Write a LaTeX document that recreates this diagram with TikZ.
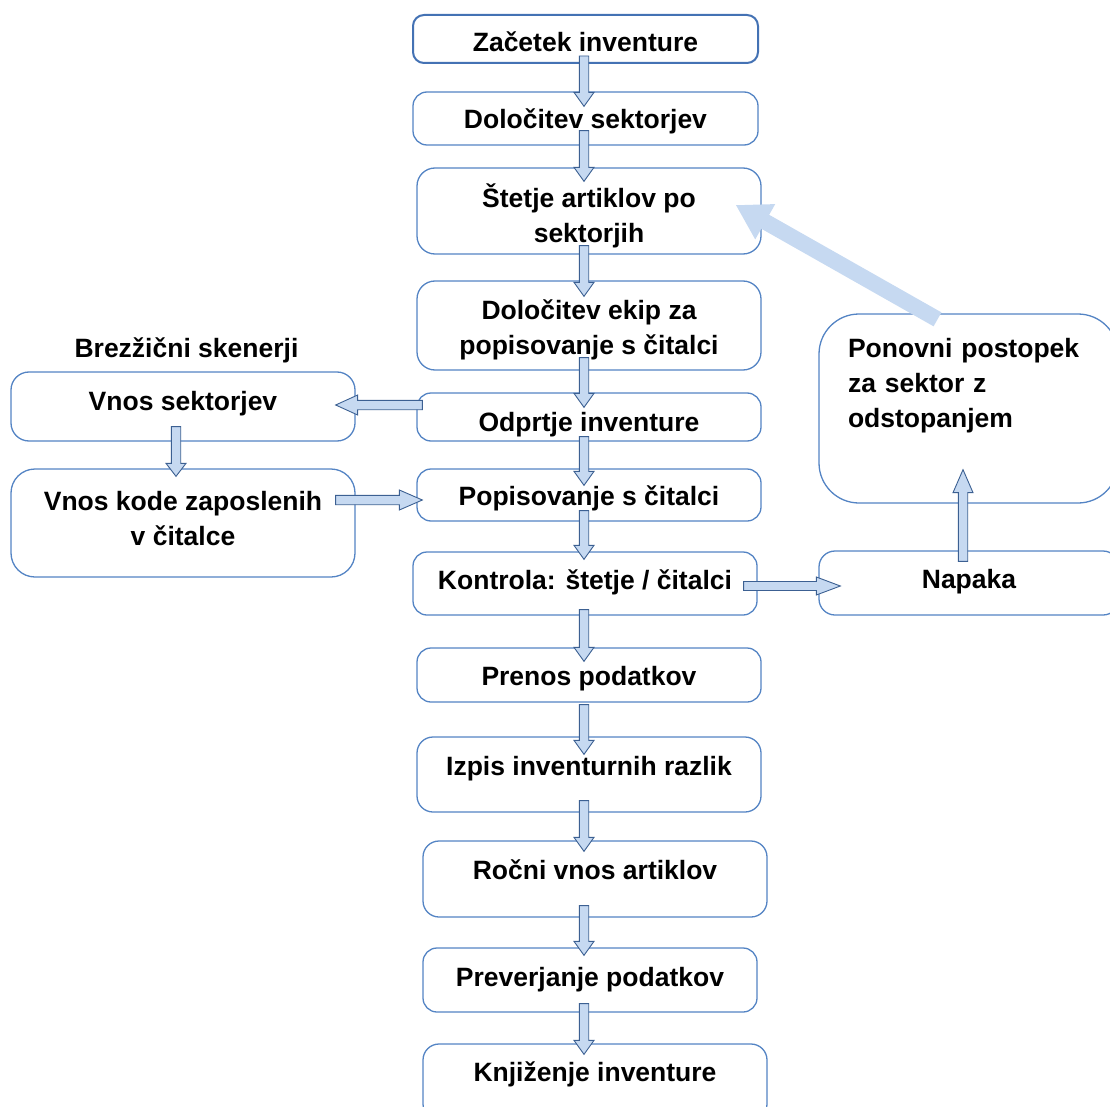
\documentclass[tikz,border=0pt]{standalone}
\usepackage{fontspec}
\setmainfont{Liberation Sans}
\usetikzlibrary{calc,arrows.meta}

\definecolor{boxblue}{RGB}{84,132,196}
\definecolor{boxdark}{RGB}{68,114,180}
\definecolor{arrowfill}{RGB}{198,217,241}
\definecolor{arrowline}{RGB}{60,96,146}

\tikzset{
    stepbox/.style={draw=boxblue, line width=1.3pt, fill=white,
        rounded corners=14pt, inner sep=0pt, align=center,
        font=\fontsize{26.5}{35}\selectfont\bfseries,
        text height=30pt, text depth=#1},
    stepbox/.default=10pt,
    two lines/.style={text height=65pt},
    blockarrow/.style={fill=arrowfill, draw=arrowline, line width=0.9pt},
    arrow shaft/.store in=\arrowshaft,
    arrow head/.store in=\arrowhead,
    arrow tip/.store in=\arrowtip,
    arrow shaft=4.7pt, arrow head=10pt, arrow tip=14pt
}

% block arrow from #2 to #3
\newcommand{\blockarrow}[3][]{%
    \begin{scope}[#1]
        \path #2 coordinate (ba-s) #3 coordinate (ba-e);
        \path ($(ba-e)!\arrowtip!(ba-s)$) coordinate (ba-h);
        \filldraw[blockarrow]
            ($(ba-s)!\arrowshaft!90:(ba-e)$) -- ($(ba-h)!\arrowshaft!90:(ba-e)$)
            -- ($(ba-h)!\arrowhead!90:(ba-e)$) -- (ba-e)
            -- ($(ba-h)!\arrowhead!-90:(ba-e)$) -- ($(ba-h)!\arrowshaft!-90:(ba-e)$)
            -- ($(ba-s)!\arrowshaft!-90:(ba-e)$) -- cycle;
    \end{scope}}

\begin{document}
\begin{tikzpicture}[x=1pt, y=1pt]
    \useasboundingbox (0,0) rectangle (1110,-1107);
    \clip (0,0) rectangle (1110,-1107);

    % main column
    \node[stepbox=5pt, draw=boxdark, line width=2pt, rounded corners=11pt,
        minimum width=345pt, minimum height=48pt] (start) at (585.5,-39) {Začetek inventure};
    \node[stepbox, minimum width=345pt, minimum height=53pt] (sect) at (585.5,-118.5) {Določitev sektorjev};
    \node[stepbox=2pt, two lines, rounded corners=18pt, minimum width=344pt, minimum height=86pt] (stetje) at (589,-211) {Štetje artiklov po\\sektorjih};
    \node[stepbox=8pt, two lines, rounded corners=18pt, minimum width=344pt, minimum height=89pt] (ekipe) at (589,-325.5) {Določitev ekip za\\popisovanje s čitalci};
    \node[stepbox=1pt, minimum width=344pt, minimum height=48pt] (odprtje) at (589,-417) {Odprtje inventure};
    \node[stepbox=9pt, minimum width=344pt, minimum height=52pt] (popis) at (589,-495) {Popisovanje s čitalci};
    \node[stepbox=19pt, minimum width=344pt, minimum height=63pt] (kontrola) at (585,-583.5) {Kontrola: štetje / čitalci};
    \node[stepbox=10pt, minimum width=344pt, minimum height=54pt] (prenos) at (589,-675) {Prenos podatkov};
    \node[stepbox=29pt, rounded corners=16pt, minimum width=344pt, minimum height=75pt] (izpis) at (589,-774.5) {Izpis inventurnih razlik};
    \node[stepbox=30pt, rounded corners=16pt, minimum width=344pt, minimum height=76pt] (rocni) at (595,-879) {Ročni vnos artiklov};
    \node[stepbox=17pt, minimum width=334pt, minimum height=64pt] (prever) at (590,-980) {Preverjanje podatkov};
    \node[stepbox=31pt, rounded corners=16pt, minimum width=344pt, minimum height=76pt] (knjiz) at (595,-1082) {Knjiženje inventure};

    % wireless scanners
    \node[anchor=base, font=\fontsize{26.5}{35}\selectfont\bfseries] (skener) at (186.5,-357) {Brezžični skenerji};
    \node[stepbox=22pt, rounded corners=18pt, minimum width=344pt, minimum height=69pt] (vnossek) at (183,-406.5) {Vnos sektorjev};
    \node[stepbox=21pt, two lines, rounded corners=24pt, minimum width=344pt, minimum height=108pt] (vnoskode) at (183,-523) {Vnos kode zaposlenih\\v čitalce};

    % error branch
    \node[stepbox=20pt, rounded corners=16pt, minimum width=300pt, minimum height=64pt] (napaka) at (969,-583) {Napaka};
    \node[stepbox=132pt, rounded corners=40pt, align=left, text width=241pt, inner xsep=29pt,
        minimum width=299pt, minimum height=189pt] (ponovni) at (968.5,-408.5) {Ponovni postopek\\za sektor z\\odstopanjem};

    % arrows of the main column
    \coordinate (col) at (584,0);
    \blockarrow{($(start.south -| col)+(0,8)$)}{($(sect.north -| col)+(0,-15)$)}
    \blockarrow{($(sect.south -| col)+(0,15)$)}{($(stetje.north -| col)+(0,-14)$)}
    \blockarrow{($(stetje.south -| col)+(0,9)$)}{($(ekipe.north -| col)+(0,-16)$)}
    \blockarrow{($(ekipe.south -| col)+(0,13)$)}{($(odprtje.north -| col)+(0,-15)$)}
    \blockarrow{($(odprtje.south -| col)+(0,5)$)}{($(popis.north -| col)+(0,-17)$)}
    \blockarrow{($(popis.south -| col)+(0,11)$)}{($(kontrola.north -| col)+(0,-8)$)}
    \blockarrow{($(kontrola.south -| col)+(0,6)$)}{($(prenos.north -| col)+(0,-14)$)}
    \blockarrow{($(prenos.south -| col)+(0,-2)$)}{($(izpis.north -| col)+(0,-18)$)}
    \blockarrow{($(izpis.south -| col)+(0,12)$)}{($(rocni.north -| col)+(0,-11)$)}
    \blockarrow{($(rocni.south -| col)+(0,12)$)}{($(prever.north -| col)+(0,-8)$)}
    \blockarrow{($(prever.south -| col)+(0,9)$)}{($(knjiz.north -| col)+(0,-11)$)}

    % side arrows
    \blockarrow[arrow tip=22pt]{($(odprtje.west)+(6,12)$)}{($(vnossek.east)+(-20,1.5)$)}
    \blockarrow[arrow tip=13pt]{($(vnossek.south)+(-7,15)$)}{($(vnoskode.north)+(-7,-8)$)}
    \blockarrow[arrow tip=23pt]{($(vnoskode.east)+(-20,23)$)}{($(popis.west)+(6,-5)$)}
    \blockarrow[arrow tip=24pt, arrow head=9pt, arrow shaft=4.5pt]{($(kontrola.east)+(-14,-2.5)$)}{($(napaka.west)+(22,-3)$)}
    \blockarrow[arrow tip=23pt]{($(napaka.north)+(-6,-11)$)}{($(ponovni.south)+(-5.5,34)$)}

    % back to counting
    \draw[arrowfill, line width=16pt, -{Triangle[length=34pt, width=38pt]}]
        ($(ponovni.north)+(-31,-6)$) -- ($(stetje.east)+(-26,6)$);
\end{tikzpicture}
\end{document}
